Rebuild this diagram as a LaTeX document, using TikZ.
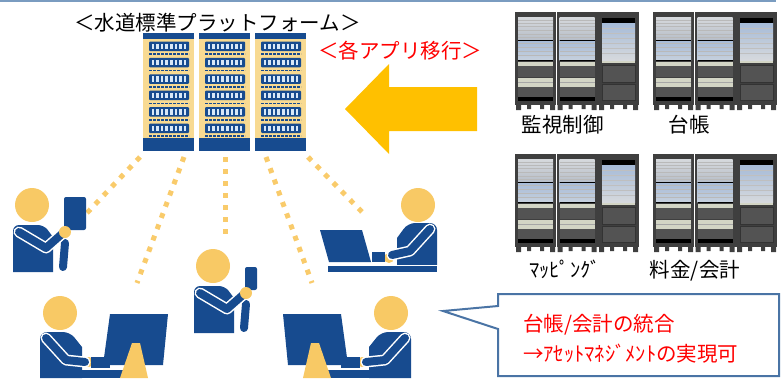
\documentclass[tikz,border=0pt]{standalone}
\usepackage{fontspec}
\setmainfont{Noto Sans CJK JP}
\definecolor{navy}{HTML}{174B8F}
\definecolor{headc}{HTML}{F8C965}
\definecolor{dotc}{HTML}{F9CB6B}
\definecolor{colyellow}{HTML}{F8DA92}
\definecolor{slotc}{HTML}{D8E8F8}
\definecolor{arrowc}{HTML}{FFC000}
\definecolor{calloutc}{HTML}{4A74A5}
\definecolor{toplinec}{HTML}{7A9CC0}
\definecolor{rackgray}{HTML}{3F3F3F}
\definecolor{silverA}{HTML}{D6D9DD}
\definecolor{silverB}{HTML}{B7BEC8}
\definecolor{blueA}{HTML}{A6BBD8}
\definecolor{blueB}{HTML}{C6D0DD}
\definecolor{lightband}{HTML}{D3D5C5}
\definecolor{darkpanel}{HTML}{535353}
\newcommand\bigjp{\fontsize{20.5}{24}\selectfont}
\tikzset{
  lbl/.style={font=\bigjp, inner sep=0pt, anchor=base},
  redlbl/.style={lbl, text=red},
  linkdots/.style={draw=dotc, line width=5pt, dash pattern=on 5pt off 7pt},
  arm/.style={draw=navy, line width=8pt, line cap=round, line join=round,
    preaction={draw=white, line width=11pt, line cap=round, line join=round}},
  % one column of the platform rack
  pics/pcol/.style={code={
    \fill[colyellow] (0,0) rectangle (51,118);
    \fill[navy] (0,0) rectangle (51,6);
    \fill[navy] (0,105) rectangle (51,118);
    \foreach \i in {0,...,5}{
      \pgfmathsetmacro\t{8.5+16.4*\i}
      \fill[navy, rounded corners=1pt] (6,\t) rectangle (46,\t+9.5);
      \foreach \k in {0,...,7}{
        \fill[slotc] (8.6+4.6*\k,\t+2) rectangle (11.2+4.6*\k,\t+7.5);
      }
      \draw[navy, line width=1.6pt, dash pattern=on 2.6pt off 1.4pt] (6,\t+12.6) -- (46,\t+12.6);
    }
  }},
  % server rack with drawer units
  pics/rackA/.style={code={
    \fill[rackgray] (0,0) rectangle (41,93);
    \shade[top color=silverA, bottom color=silverB] (3,5) rectangle (38,28);
    \shade[top color=blueA, bottom color=blueB] (3,28) rectangle (38,48);
    \foreach \yy in {8,11,14,18,22,25,31,35,39,43}{
      \draw[gray!55, line width=0.5pt] (3,\yy) -- (38,\yy);
    }
    \draw[black, line width=0.8pt] (3,28) -- (38,28) (3,48) -- (38,48);
    \fill[lightband] (3,50) rectangle (38,54);
    \fill[darkpanel] (3,54) rectangle (38,65);
    \fill[lightband] (3,66) rectangle (38,75);
    \draw[gray!70, line width=0.5pt] (3,70) -- (38,70);
    \fill[darkpanel] (3,75) rectangle (38,85);
    \fill[black] (3,85) rectangle (38,89);
    \fill[rackgray] (1,93) rectangle (6,98) (12,93) rectangle (16,97)
                    (25,93) rectangle (29,97) (35,93) rectangle (40,98);
  }},
  % server rack with screen and two cabinets
  pics/rackB/.style={code={
    \fill[rackgray] (0,0) rectangle (41,93);
    \fill[black] (4,6) rectangle (37,11);
    \shade[top color=blueA, bottom color=silverA] (4,11) rectangle (37,48);
    \foreach \yy in {16,21,26,31,36,41}{
      \draw[gray!50, line width=0.5pt] (4,\yy) -- (37,\yy);
    }
    \fill[lightband] (4,49) rectangle (37,51);
    \fill[darkpanel] (4,53) rectangle (37,70);
    \fill[darkpanel] (4,72) rectangle (37,88);
    \draw[black!80, line width=0.5pt] (4,53) rectangle (37,70) (4,72) rectangle (37,88);
    \fill[rackgray] (1,93) rectangle (6,98) (12,93) rectangle (16,97)
                    (25,93) rectangle (29,97) (35,93) rectangle (40,98);
  }},
  pics/rackgroup/.style={code={
    \pic at (0,0) {rackA};
    \pic at (41.5,0) {rackA};
    \pic at (83,0) {rackB};
  }},
  % user holding a device (device given as a path)
  pics/holder/.style={code={
    \fill[headc] (0,0) circle (17pt);
    \fill[navy] (-19,67) -- (-19,28) [rounded corners=6pt] -- (-19,20) -- (12,20)
      [sharp corners] -- (21,32) -- (21,67) -- cycle;
    \draw[arm] (33,38) -- (31,62);
    \draw[arm] (-13,27) -- (14,43) -- (31,28);
    \fill[navy, rounded corners=2pt] #1;
    \fill[headc] (33,27) circle (6pt);
  }},
  % user at a desktop monitor, facing right
  pics/deskuser/.style={code={
    \fill[headc] (0,0) circle (17pt);
    \fill[navy] (-20,65) -- (-20,30) [rounded corners=7pt] -- (-20,19) -- (10,19)
      [sharp corners] -- (22,34) -- (22,65) -- cycle;
    \fill[headc] (29,49) circle (5pt);
    \draw[arm] (-14,25) -- (6,47) -- (25,49);
    \fill[navy] (31,44) rectangle (50,55);
    \fill[navy] (22,57) rectangle (70,65);
    \fill[navy] (50,1) -- (108,1) -- (103,52) -- (43,52) -- cycle;
    \fill[headc] (72,30) -- (80,30) -- (88,65) -- (60,65) -- cycle;
  }}
}
\begin{document}
\begin{tikzpicture}[x=1pt,y=-1pt]
\useasboundingbox (0,0) rectangle (781,378);

% thin rule along the top
\draw[toplinec, line width=1.5pt] (0,0.8) -- (776,0.8);

% platform title and racks
\node[lbl] (ptitle) at (217.5,30.5) {＜水道標準プラットフォーム＞};
\pic at (143,33) {pcol};
\pic at (199,33) {pcol};
\pic at (255,33) {pcol};

% migration arrow and caption
\node[redlbl] (migr) at (400,58) {＜各アプリ移行＞};
\fill[arrowc] (345,109) -- (389,64) -- (389,87) -- (477,87) -- (477,131)
  -- (389,131) -- (389,154) -- cycle;

% legacy servers
\pic at (515,12) {rackgroup};
\pic at (653,12) {rackgroup};
\pic at (515,154) {rackgroup};
\pic at (653,154) {rackgroup};
\node[lbl] (kanshi) at (562.5,132) {監視制御};
\node[lbl] (daicho) at (689,132) {台帳};
\node[lbl] (mapping) at (565,277) {ﾏｯﾋﾟﾝｸﾞ};
\node[lbl] (ryokin) at (695,277) {料金/会計};

% links from the platform to users
\coordinate (s1) at (140,157); \coordinate (e1) at (86,214);
\coordinate (s2) at (184,157); \coordinate (e2) at (137,283);
\coordinate (s3) at (225,157); \coordinate (e3) at (225,236);
\coordinate (s4) at (266,157); \coordinate (e4) at (312,283);
\coordinate (s5) at (308,157); \coordinate (e5) at (363,213);
\draw[linkdots] (s1) -- (e1);
\draw[linkdots] (s2) -- (e2);
\draw[linkdots] (s3) -- (e3);
\draw[linkdots] (s4) -- (e4);
\draw[linkdots] (s5) -- (e5);

% users
\pic at (32,205) {holder={(32,-8) rectangle (54,25)}};
\pic at (213,266) {holder={(32,1) rectangle (44,24)}};
\pic at (60,313) {deskuser};
\begin{scope}[shift={(391,313)}, xscale=-1]
  \pic[transform shape] at (0,0) {deskuser};
\end{scope}
% laptop user
\begin{scope}[shift={(418,205)}]
  \fill[headc] (0,0) circle (17pt);
  \fill[headc] (-29,53) circle (5pt);
  \fill[navy] (19,60) -- (19,28) [rounded corners=7pt] -- (19,18) -- (-10,18)
    [sharp corners] -- (-21,33) -- (-21,60) -- cycle;
  \draw[arm] (12,24) -- (-8,46) -- (-26,50);
  \fill[navy] (-98,25) -- (-56,25) -- (-47,57) -- (-89,57) -- cycle;
  \fill[navy] (-46,47) rectangle (-33,57);
  \fill[navy, preaction={draw=white, line width=3pt}] (-90,61) rectangle (19,67);
\end{scope}

% callout
\draw[calloutc, line width=2pt, fill=white] (498,294) -- (779,294) -- (779,376)
  -- (498,376) -- (498,329) -- (443,311) -- (498,306) -- cycle;
\node[redlbl, anchor=base west] (merge) at (523,331.5) {台帳/会計の統合};
\node[redlbl, anchor=base west] (asset) at (523,361) {→ｱｾｯﾄﾏﾈｼﾞﾒﾝﾄの実現可};
\end{tikzpicture}
\end{document}
